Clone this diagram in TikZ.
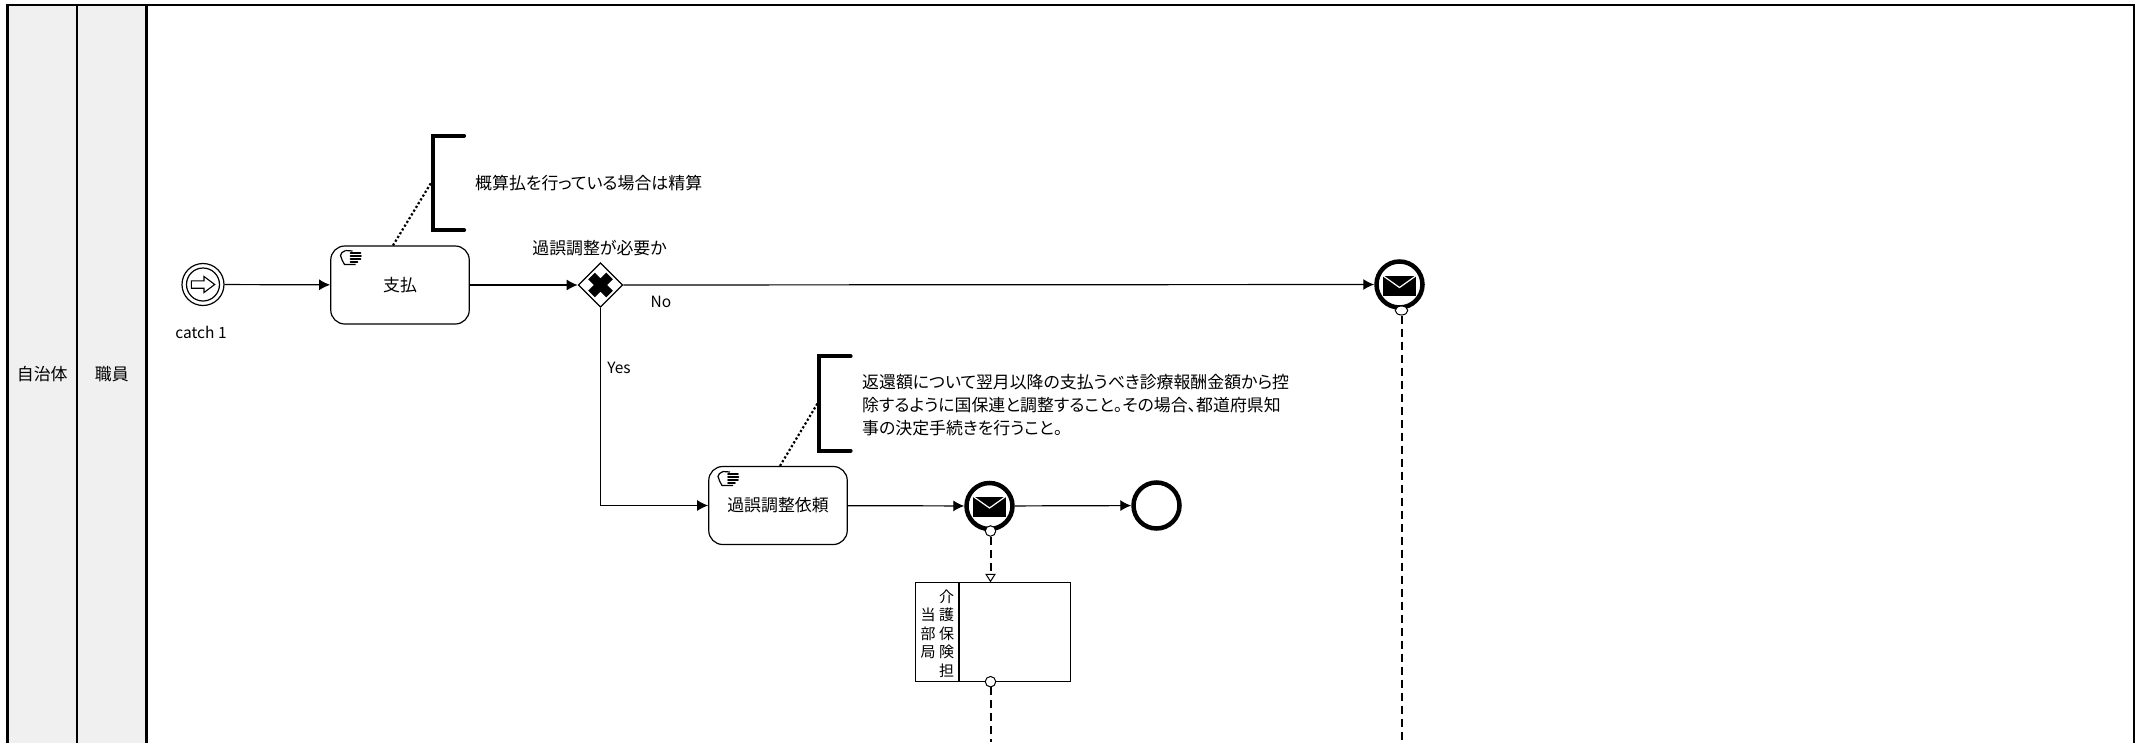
\documentclass[tikz,border=0pt]{standalone}
\usepackage{fontspec}
\setmainfont[RawFeature=+palt]{Noto Sans CJK JP}
\usetikzlibrary{arrows.meta}
\usetikzlibrary{shapes.geometric}
\tikzset{lbl/.style={font=\fontsize{16.9}{23}\selectfont,inner sep=0pt},
         small/.style={font=\fontsize{15.5}{18}\selectfont,inner sep=0pt},
         lanebox/.style={draw,line width=2.5pt,fill=black!6},
         flow/.style={line width=1.2pt,-{Latex[length=11pt,width=11pt]}},
         msg/.style={line width=2pt,dash pattern=on 8pt off 5pt},
         assoc/.style={line width=2.2pt,dash pattern=on 2.2pt off 2.2pt},
         bracket/.style={line width=3.8pt,line cap=round},
         notebox/.style={minimum width=31pt,minimum height=94pt,inner sep=0pt},
         taskbox/.style={draw,line width=1.2pt,rounded corners=14pt,lbl,minimum width=138.5pt,minimum height=78pt},
         event/.style={circle,draw,fill=white,line width=4.5pt,minimum size=46pt,inner sep=0pt},
         port/.style={circle,draw,fill=white,line width=1pt,minimum size=10.5pt,inner sep=0pt},
         handmark/.pic={
           \draw[line width=1.2pt,fill=white] (-5,-7) .. controls (-8,-6) and (-10,-4) .. (-10,-2)
             .. controls (-9,1) and (-8,4) .. (-6,7) -- (5,7);
           \draw[line width=1.2pt] (-5,-7) -- (2,-6.5);
           \foreach \y/\xe in {-4.5/10,-1.5/10.5,1.5/10,4.5/7}
             \draw[line width=1.6pt,line cap=round] (0,\y) -- (\xe,\y);
         },
         arrowmark/.pic={
           \draw[line width=1.1pt,fill=white] (-11.7,-3.7) -- (1,-3.7) -- (1,-8) -- (11.7,0) -- (1,8) -- (1,3.7) -- (-11.7,3.7) -- cycle;
         },
         mailmark/.pic={
           \fill (-16.2,-10) rectangle (16.2,10);
           \draw[white,line width=1.2pt] (-16.2,-10) -- (0,1.5) -- (16.2,-10);
         }}

\begin{document}
\begin{tikzpicture}[x=1pt,y=-1pt]
\clip (0,0) rectangle (2145,742);
% lanes
\draw[line width=2.5pt] (7.5,5) rectangle (2134,760);
\foreach \xa/\xb/\lname/\ltext in {7.5/77/org/自治体,77/146.5/staff/職員}{
  \draw[lanebox] (\xa,5) rectangle (\xb,760);
  \node[lbl] (\lname) at ({(\xa+\xb)/2},374) {\ltext};
}
% upper row
\node[circle,draw,line width=1.2pt,minimum size=42pt,inner sep=0pt] (catch) at (203,284.5) {};
\node[circle,draw,line width=1.2pt,minimum size=33pt,inner sep=0pt] (catchin) at (catch) {};
\pic at (catch) {arrowmark};
\node[small] (catchtxt) at (201,332) {catch 1};
\node[taskbox] (pay) at (400,285) {支払};
\pic at (350.5,257.5) {handmark};
\node[diamond,aspect=1,draw,fill=white,line width=1.2pt,minimum size=44.5pt,inner sep=0pt] (gw) at (600.5,285) {};
\draw[line width=9.5pt] (591.5,276) -- (609.5,294) (591.5,294) -- (609.5,276);
\node[lbl] (gwtxt) at (599.5,248) {過誤調整が必要か};
\node[small] (notxt) at (661,302) {No};
\node[small] (yestxt) at (619,367.5) {Yes};
\node[event] (mail1) at (1399.5,284.5) {};
\pic at (1399.5,286) {mailmark};
\node[ellipse,draw,fill=white,line width=1pt,minimum width=12.5pt,minimum height=9pt,inner sep=0pt] (mail1port) at (1401.5,310.5) {};
\coordinate (mail1end) at (1401.5,742);
% notes
\node[notebox] (note1) at (448.5,183) {};
\draw[bracket] (note1.north east) -- (note1.north west) -- (note1.south west) -- (note1.south east);
\node[lbl,anchor=west] (note1txt) at (475,183) {概算払を行っている場合は精算};
\node[notebox] (note2) at (835,403.5) {};
\draw[bracket] (note2.north east) -- (note2.north west) -- (note2.south west) -- (note2.south east);
\node[lbl,anchor=west,align=left] (note2txt) at (862,405) {返還額について翌月以降の支払うべき診療報酬金額から控\\除するように国保連と調整すること。その場合、都道府県知\\事の決定手続きを行うこと。};
% lower row
\node[taskbox] (adjust) at (778,505.5) {過誤調整依頼};
\pic at (728,478.5) {handmark};
\node[event] (mail2) at (989.5,506) {};
\pic at (989.5,506.5) {mailmark};
\node[event] (stop) at (1156.5,505.5) {};
\node[port] (mail2port) at (990.5,531) {};
% box below
\node[draw,line width=1.2pt,minimum width=155.4pt,minimum height=99.4pt,inner sep=0pt] (dept) at (993,632) {};
\draw[line width=2pt] (959,582.3) -- (959,681.7);
\node[lbl,font=\fontsize{15}{18.4}\selectfont,align=center] (depttxt1) at (946.7,633.5) {介\\護\\保\\険\\担};
\node[lbl,font=\fontsize{15}{18.4}\selectfont,align=center] (depttxt2) at (928,633.5) {当\\部\\局};
\coordinate (deptin) at (990.5,582.3);
\node[port] (deptport) at (990.5,681.7) {};
\coordinate (deptend) at (990.5,742);
% connectors
\draw[flow] (catch) -- (pay);
\draw[flow] (pay) -- (gw);
\draw[flow] (gw) -- (mail1);
\draw[flow] (gw) |- (adjust);
\draw[flow] (adjust) -- (mail2);
\draw[flow] (mail2) -- (stop);
\draw[assoc] ([xshift=-7pt]pay.north) -- ([yshift=3pt]note1.west);
\draw[assoc] ([xshift=2pt]adjust.north) -- ([yshift=3pt]note2.west);
\draw[msg] (mail1port) -- (mail1end);
\draw[msg,-{Triangle[open,fill=white,length=8.5pt,width=10.5pt,line width=1pt]}] (mail2port) -- (deptin);
\draw[msg] (deptport) -- (deptend);
\end{tikzpicture}
\end{document}
